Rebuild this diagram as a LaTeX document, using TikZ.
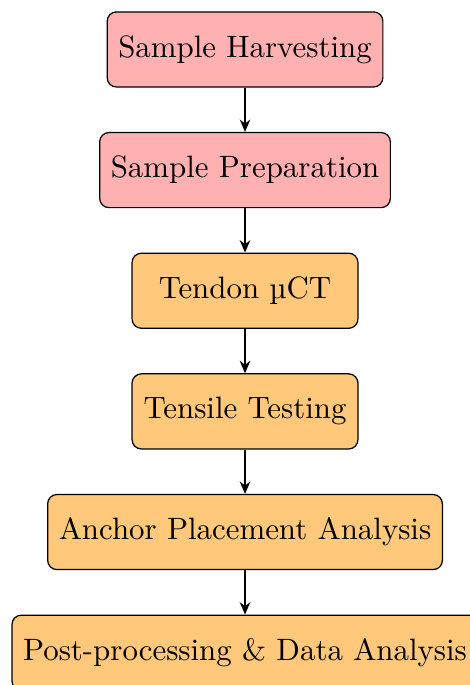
\documentclass[tikz,border=0pt]{standalone}
\usepackage{fontspec}
\usetikzlibrary{positioning,arrows.meta}

\definecolor{stagepink}{RGB}{255,177,177}
\definecolor{stageorange}{RGB}{255,200,122}

\begin{document}
\begin{tikzpicture}
  \useasboundingbox (0,0) rectangle (151.8pt,-221.7pt);
  \coordinate(top) at (79.3pt,-16pt);
  \begin{scope}[
    node distance=14.35pt,
    every node/.style={
      draw,
      rounded corners=3pt,
      align=center,
      anchor=center,
      minimum height=24.3pt,
      minimum width=73.1pt,
      inner xsep=3.6pt,
    },
    prep/.style={fill=stagepink},
    test/.style={fill=stageorange},
    ]
    \node[prep] (harvest)  at (top)             {Sample Harvesting};
    \node[prep] (prepare)  [below=of harvest]   {Sample Preparation};
    \node[test] (microct)  [below=of prepare]   {Tendon µCT};
    \node[test] (tensile)  [below=of microct]   {Tensile Testing};
    \node[test] (anchor)   [below=of tensile]   {Anchor Placement Analysis};
    \node[test] (analysis) [below=of anchor]    {Post-processing \& Data Analysis};
  \end{scope}
  \begin{scope}[every path/.style={draw,semithick,-{Stealth[length=4pt,width=3.4pt,inset=1.3pt]}}]
    \path
    (harvest) edge (prepare)
    (prepare) edge (microct)
    (microct) edge (tensile)
    (tensile) edge (anchor)
    (anchor)  edge (analysis);
  \end{scope}
\end{tikzpicture}
\end{document}
